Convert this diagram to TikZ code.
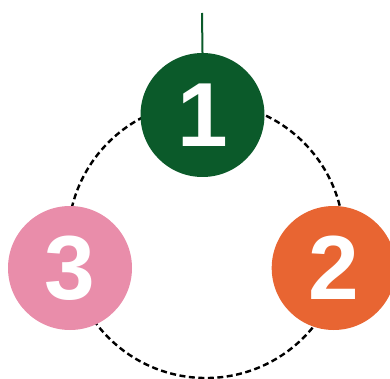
\documentclass[tikz,border=0pt]{standalone}
\usepackage{fontspec}
\setmainfont{Liberation Sans}
\definecolor{cgreen}{HTML}{0B5A2A}
\definecolor{corange}{HTML}{E86532}
\definecolor{cpink}{HTML}{E98DAA}
\begin{document}
\begin{tikzpicture}[x=1pt,y=-1pt,
  numcircle/.style={circle,minimum size=124pt,inner sep=0pt,text=white,font=\fontsize{91}{91}\selectfont\bfseries},
  ring/.style={draw=black,line width=2.4pt,dash pattern=on 6pt off 3.5pt}]
\useasboundingbox (0,0) rectangle (390,379);
\clip (0,0) rectangle (390,379);
\draw[ring] (206,240) circle[radius=138];
\node[numcircle,fill=cgreen] (n1) at (202.5,115) {1};
\node[numcircle,fill=corange] (n2) at (333.7,268) {2};
\node[numcircle,fill=cpink] (n3) at (70,268) {3};
\coordinate (top) at (202,13);
\draw[cgreen,line width=2pt] (top) -- (n1.north);
\end{tikzpicture}
\end{document}
